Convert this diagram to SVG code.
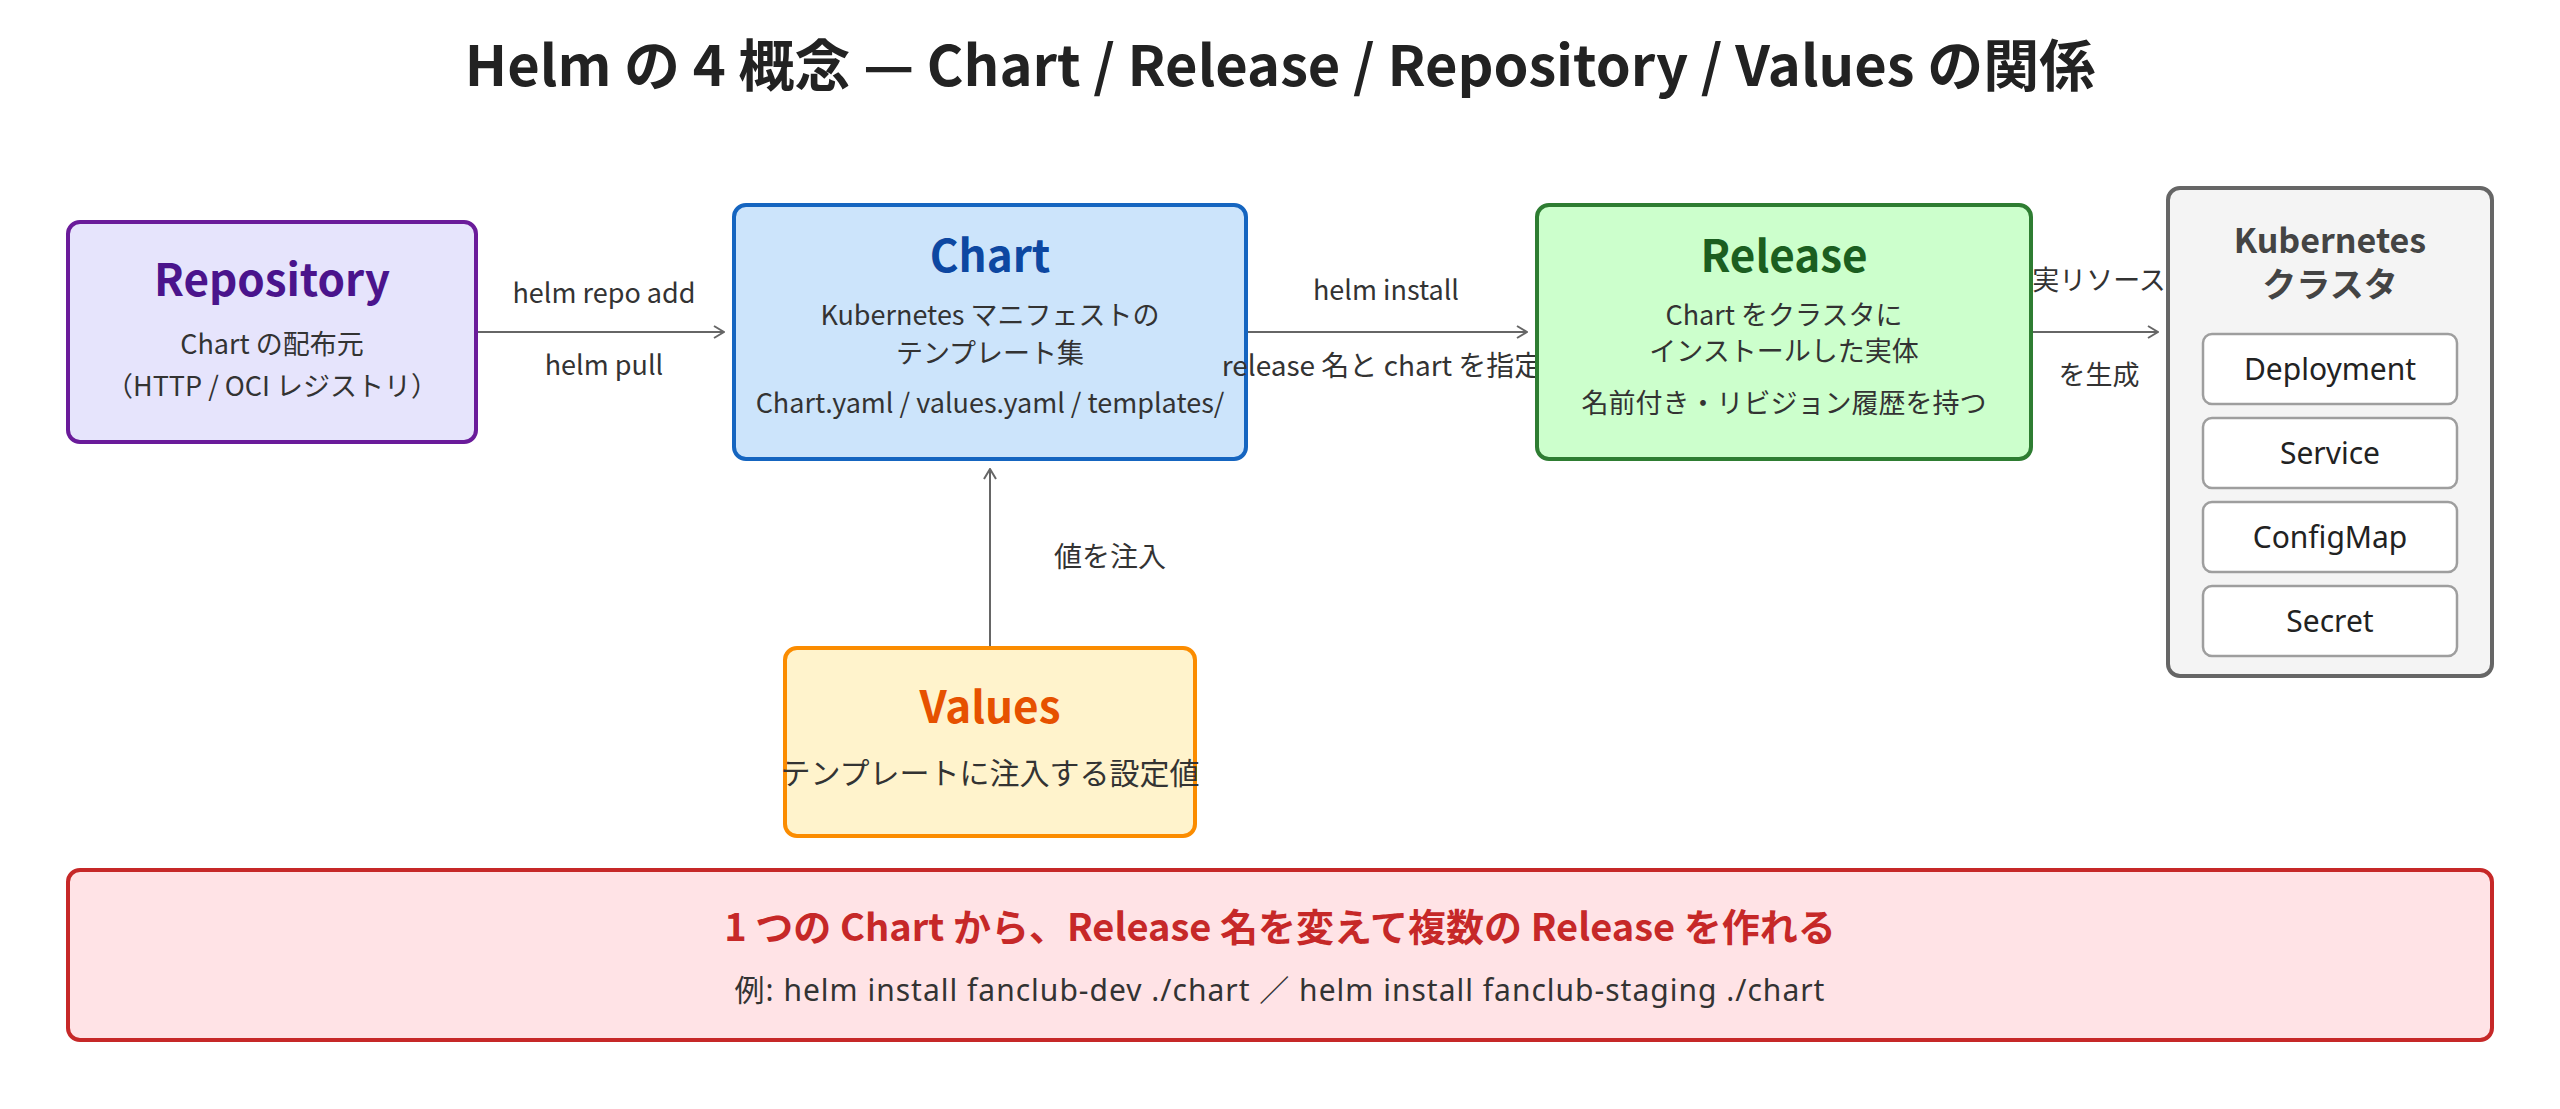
<svg xmlns="http://www.w3.org/2000/svg" width="2560" height="1109" viewBox="0 0 2560 1109">
  <defs>
    <marker id="arrow" viewBox="0 0 12 14" refX="11" refY="7" markerWidth="12" markerHeight="14" markerUnits="userSpaceOnUse" orient="auto">
      <path d="M1,1 L11,7 L1,13" fill="none" stroke="#666666" stroke-width="2"/>
    </marker>
    <style>
      text { font-family: "Noto Sans CJK JP", "Noto Sans", sans-serif; text-anchor: middle; fill: #333333; }
      .title { font-size: 56px; font-weight: 700; fill: #222222; }
      .ntitle { font-size: 44px; font-weight: 700; }
      .sub { font-size: 27px; }
      .lbl { font-size: 27px; fill: #333333; }
      .box { stroke-width: 4; }
      .conn { stroke: #666666; stroke-width: 2; fill: none; marker-end: url(#arrow); }
      .res { fill: #ffffff; stroke: #9e9e9e; stroke-width: 2.5; }
      .restext { font-family: "Noto Sans", "Noto Sans CJK JP", sans-serif; font-size: 30px; fill: #222222; }
      .k8s { font-size: 34px; font-weight: 700; fill: #444444; }
    </style>
  </defs>
  <rect width="2560" height="1109" fill="#ffffff"/>

  <text class="title" x="1280" y="86">Helm の 4 概念 — Chart / Release / Repository / Values の関係</text>

  <g id="repository">
    <rect class="box" x="68" y="222" width="408" height="220" rx="12" fill="#e6e4fc" stroke="#6a1b9a"/>
    <text class="ntitle" x="272" y="296" style="fill:#4a148c">Repository</text>
    <text class="sub" x="272" y="354">Chart の配布元</text>
    <text class="sub" x="272" y="396">（HTTP / OCI レジストリ）</text>
  </g>

  <g id="chart">
    <rect class="box" x="734" y="205" width="512" height="254" rx="12" fill="#cce4fb" stroke="#1565c0"/>
    <text class="ntitle" x="990" y="272" style="fill:#0d47a1">Chart</text>
    <text class="sub" x="990" y="325">Kubernetes マニフェストの</text>
    <text class="sub" x="990" y="363">テンプレート集</text>
    <text class="sub" x="990" y="413">Chart.yaml / values.yaml / templates/</text>
  </g>

  <g id="values">
    <rect class="box" x="785" y="648" width="410" height="188" rx="12" fill="#fff3cc" stroke="#fb8c00"/>
    <text class="ntitle" x="990" y="723" style="fill:#e65100">Values</text>
    <text x="990" y="784" style="font-size:30px">テンプレートに注入する設定値</text>
  </g>

  <g id="note">
    <rect class="box" x="68" y="870" width="2424" height="170" rx="12" fill="#ffe3e6" stroke="#c62828"/>
    <text x="1280" y="941" style="font-size:38px;font-weight:700;fill:#c62828">1 つの Chart から、Release 名を変えて複数の Release を作れる</text>
    <text x="1280" y="1001" style="font-family:'Noto Sans','Noto Sans CJK JP',sans-serif;font-size:30px;letter-spacing:1px">例: helm install fanclub-dev ./chart ／ helm install fanclub-staging ./chart</text>
  </g>

  <g id="connectors">
    <line class="conn" x1="478" y1="332" x2="724" y2="332"/>
    <line class="conn" x1="1248" y1="332" x2="1527" y2="332"/>
    <line class="conn" x1="2033" y1="332" x2="2158" y2="332"/>
    <line class="conn" x1="990" y1="646" x2="990" y2="469"/>
    <text class="lbl" x="604" y="303">helm repo add</text>
    <text class="lbl" x="604" y="375">helm pull</text>
    <text class="lbl" x="1386" y="300">helm install</text>
    <text class="lbl" x="1382" y="376" style="font-size:28px">release 名と chart を指定</text>
    <text class="lbl" x="2099" y="290">実リソース</text>
    <text class="lbl" x="2099" y="385">を生成</text>
    <text class="lbl" x="1110" y="567" style="font-size:28px">値を注入</text>
  </g>

  <g id="release">
    <rect class="box" x="1537" y="205" width="494" height="254" rx="12" fill="#ccffcc" stroke="#2e7d32"/>
    <text class="ntitle" x="1784" y="272" style="fill:#1b5e20">Release</text>
    <text class="sub" x="1784" y="325">Chart をクラスタに</text>
    <text class="sub" x="1784" y="361">インストールした実体</text>
    <text class="sub" x="1784" y="413">名前付き・リビジョン履歴を持つ</text>
  </g>

  <g id="kubernetes-cluster">
    <rect class="box" x="2168" y="188" width="324" height="488" rx="12" fill="#f4f4f4" stroke="#666666"/>
    <text class="k8s" x="2330" y="253">Kubernetes</text>
    <text class="k8s" x="2330" y="297">クラスタ</text>
  </g>
  <g id="deployment">
    <rect class="res" x="2203" y="334" width="254" height="70" rx="9"/>
    <text class="restext" x="2330" y="380">Deployment</text>
  </g>
  <g id="service">
    <rect class="res" x="2203" y="418" width="254" height="70" rx="9"/>
    <text class="restext" x="2330" y="464">Service</text>
  </g>
  <g id="configmap">
    <rect class="res" x="2203" y="502" width="254" height="70" rx="9"/>
    <text class="restext" x="2330" y="548">ConfigMap</text>
  </g>
  <g id="secret">
    <rect class="res" x="2203" y="586" width="254" height="70" rx="9"/>
    <text class="restext" x="2330" y="632">Secret</text>
  </g>
</svg>
